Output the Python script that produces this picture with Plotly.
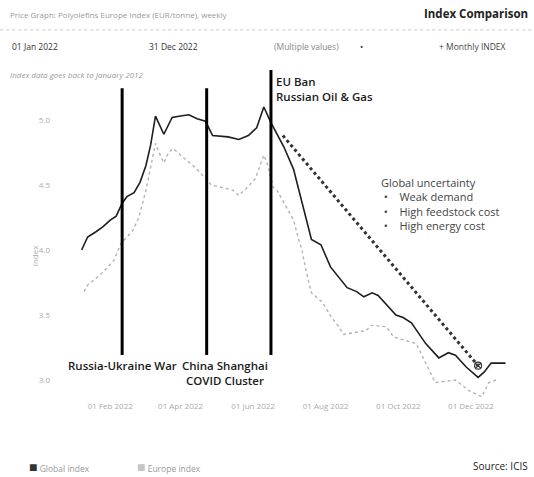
import plotly.graph_objects as go

# ---- data ----
global_dates = ["2022-01-08","2022-01-13","2022-01-20","2022-01-26","2022-02-01","2022-02-06",
                "2022-02-09","2022-02-11","2022-02-15","2022-02-21","2022-02-26","2022-03-03",
                "2022-03-07","2022-03-11","2022-03-18","2022-03-22","2022-03-25","2022-04-01",
                "2022-04-08","2022-04-15","2022-04-22","2022-04-28","2022-05-11","2022-05-20",
                "2022-05-28","2022-06-04","2022-06-10","2022-06-16","2022-06-27","2022-07-05",
                "2022-07-12","2022-07-20","2022-07-28","2022-08-05","2022-08-19","2022-08-27",
                "2022-09-02","2022-09-09","2022-09-14","2022-09-29","2022-10-05","2022-10-12",
                "2022-10-24","2022-11-04","2022-11-12","2022-11-18","2022-11-27","2022-12-07",
                "2022-12-12","2022-12-18","2022-12-30"]
global_values = [4.00,4.10,4.14,4.18,4.23,4.26,
                 4.32,4.36,4.41,4.44,4.52,4.65,
                 4.81,5.03,4.89,4.97,5.02,5.03,
                 5.04,5.01,4.99,4.88,4.87,4.85,
                 4.88,4.94,5.10,4.98,4.79,4.62,
                 4.36,4.08,4.04,3.87,3.71,3.68,
                 3.64,3.67,3.65,3.50,3.48,3.44,
                 3.28,3.17,3.21,3.19,3.10,3.02,
                 3.06,3.13,3.13]

europe_dates = ["2022-01-10","2022-01-13","2022-01-21","2022-01-26","2022-02-04","2022-02-07",
                "2022-02-10","2022-02-20","2022-02-25","2022-03-03","2022-03-07","2022-03-11",
                "2022-03-14","2022-03-18","2022-03-22","2022-03-26","2022-04-01","2022-04-14",
                "2022-04-27","2022-05-15","2022-05-20","2022-05-27","2022-06-03","2022-06-07",
                "2022-06-10","2022-06-13","2022-06-18","2022-06-21","2022-06-27","2022-07-05",
                "2022-07-09","2022-07-12","2022-07-16","2022-07-20","2022-07-29","2022-08-06",
                "2022-08-12","2022-08-16","2022-09-04","2022-09-08","2022-09-21","2022-09-27",
                "2022-10-16","2022-10-24","2022-11-01","2022-11-18","2022-11-29","2022-12-10",
                "2022-12-16","2022-12-22"]
europe_values = [3.68,3.73,3.79,3.83,3.92,3.98,
                 4.05,4.15,4.25,4.46,4.64,4.82,
                 4.75,4.67,4.75,4.78,4.73,4.63,
                 4.50,4.46,4.42,4.48,4.55,4.65,
                 4.73,4.66,4.48,4.46,4.36,4.23,
                 4.09,4.00,3.82,3.67,3.60,3.48,
                 3.41,3.35,3.38,3.42,3.41,3.33,
                 3.28,3.13,2.98,3.00,2.92,2.87,
                 2.98,3.00]

trend_dates = ["2022-06-26", "2022-12-07"]
trend_values = [4.88, 3.11]

event_dates = ["2022-02-11", "2022-04-23", "2022-06-16"]
event_labels = ["Russia-Ukraine War", "China Shanghai<br>COVID Cluster", "EU Ban<br>Russian Oil &amp; Gas"]

y_ticks = [3.0, 3.5, 4.0, 4.5, 5.0]
x_ticks = ["2022-02-01", "2022-04-01", "2022-06-01", "2022-08-01", "2022-10-01", "2022-12-01"]

FONT = "Open Sans"
fig = go.Figure()

fig.add_trace(go.Scatter(x=europe_dates, y=europe_values, mode="lines", name="Europe index",
                         line=dict(color="#b3b3b3", width=1.4, dash="dot"), showlegend=False))
fig.add_trace(go.Scatter(x=global_dates, y=global_values, mode="lines", name="Global index",
                         line=dict(color="#1e1e1e", width=1.6), showlegend=False))
fig.add_trace(go.Scatter(x=trend_dates, y=trend_values, mode="lines", showlegend=False,
                         line=dict(color="#333333", width=3, dash="3px,3px")))
fig.add_trace(go.Scatter(x=trend_dates[-1:], y=trend_values[-1:], mode="markers", showlegend=False,
                         marker=dict(symbol="circle-x-open", size=7, color="#333333",
                                     line=dict(width=1.2))))

# event lines
tops = [0.990, 0.990, 1.048]
for d, top in zip(event_dates, tops):
    fig.add_shape(type="line", xref="x", yref="paper", x0=d, x1=d, y0=0.143, y1=top,
                  line=dict(color="#000000", width=3))

ev_font = dict(family=FONT, size=11.5, color="#1a1a1a", weight=600)
ann = []
ann.append(dict(x=event_dates[0], y=0.111, xref="x", yref="paper", text=event_labels[0],
                showarrow=False, xanchor="center", yanchor="middle", font=ev_font))
ann.append(dict(x=event_dates[1], y=0.086, xref="x", yref="paper", text=event_labels[1],
                showarrow=False, xanchor="center", yanchor="middle", xshift=18, font=ev_font))
ann.append(dict(x=event_dates[2], y=1.040, xref="x", yref="paper", text=event_labels[2],
                showarrow=False, xanchor="left", yanchor="top", xshift=3, align="left",
                font=ev_font))

nb = "\u00a0"
ann.append(dict(x=0.697, y=0.722, xref="paper", yref="paper", showarrow=False,
                xanchor="left", yanchor="top", align="left",
                text="Global uncertainty<br>" + nb + "•" + nb*4 + "Weak demand<br>" + nb + "•" + nb*4 +
                     "High feedstock cost<br>" + nb + "•" + nb*4 + "High energy cost",
                font=dict(family=FONT, size=11, color="#444444")))

# header
ann.append(dict(x=-0.127, y=1.225, xref="paper", yref="paper", showarrow=False, xanchor="left",
                yanchor="middle", text="Price Graph: Polyolefins Europe Index (EUR/tonne), weekly",
                font=dict(family=FONT, size=8, color="#9a9a9a")))
ann.append(dict(x=1.033, y=1.228, xref="paper", yref="paper", showarrow=False, xanchor="right",
                yanchor="middle", text="<b>Index Comparison</b>",
                font=dict(family=FONT, size=11.5, color="#222222")))
row_y = 1.121
for px, txt, col in [(-0.122, "01 Jan 2022", "#333333"), (0.182, "31 Dec 2022", "#333333"),
                     (0.460, "(Multiple values)", "#888888"), (0.650, "•", "#333333"),
                     (0.826, "+ Monthly INDEX", "#444444")]:
    ann.append(dict(x=px, y=row_y, xref="paper", yref="paper", showarrow=False, xanchor="left",
                    yanchor="middle", text=txt, font=dict(family=FONT, size=8.5, color=col)))
ann.append(dict(x=-0.127, y=1.032, xref="paper", yref="paper", showarrow=False, xanchor="left",
                yanchor="middle", text="<i>Index data goes back to January 2012</i>",
                font=dict(family=FONT, size=8, color="#9a9a9a")))
ann.append(dict(x=-0.085, y=0.46, xref="paper", yref="paper", showarrow=False, textangle=-90,
                text="Index", font=dict(family=FONT, size=8, color="#aaaaaa")))

# legend + source
ann.append(dict(x=-0.085, y=-0.210, xref="paper", yref="paper", showarrow=False, xanchor="left",
                yanchor="middle",
                text="<span style='color:#333333;font-size:14px'>■</span> Global index",
                font=dict(family=FONT, size=8.5, color="#9a9a9a")))
ann.append(dict(x=0.155, y=-0.210, xref="paper", yref="paper", showarrow=False, xanchor="left",
                yanchor="middle",
                text="<span style='color:#c4c4c4;font-size:14px'>■</span> Europe index",
                font=dict(family=FONT, size=8.5, color="#9a9a9a")))
ann.append(dict(x=1.033, y=-0.210, xref="paper", yref="paper", showarrow=False, xanchor="right",
                yanchor="middle", text="Source: ICIS",
                font=dict(family=FONT, size=10, color="#222222")))

# dotted separator below header
fig.add_shape(type="line", xref="paper", yref="paper", x0=-0.144, x1=1.042, y0=1.175, y1=1.175,
              line=dict(color="#c8c8c8", width=1, dash="dot"))

fig.update_layout(
    width=534, height=477,
    margin=dict(l=65, r=19, t=85, b=77),
    paper_bgcolor="white", plot_bgcolor="white",
    font=dict(family=FONT),
    annotations=ann,
    xaxis=dict(range=["2021-12-25", "2023-01-07"], tickvals=x_ticks, tickformat="%d %b %Y",
               showgrid=False, zeroline=False, showline=False, ticks="",
               tickfont=dict(family=FONT, size=8, color="#aaaaaa")),
    yaxis=dict(range=[2.846, 5.269], tickvals=y_ticks, tickformat=".1f",
               showgrid=False, zeroline=False, showline=False, ticks="",
               ticklabelstandoff=14,
               tickfont=dict(family=FONT, size=8, color="#aaaaaa")),
)

fig.write_html("out.html", config={"displayModeBar": False},
               post_script="document.body.style.margin='0px';")
